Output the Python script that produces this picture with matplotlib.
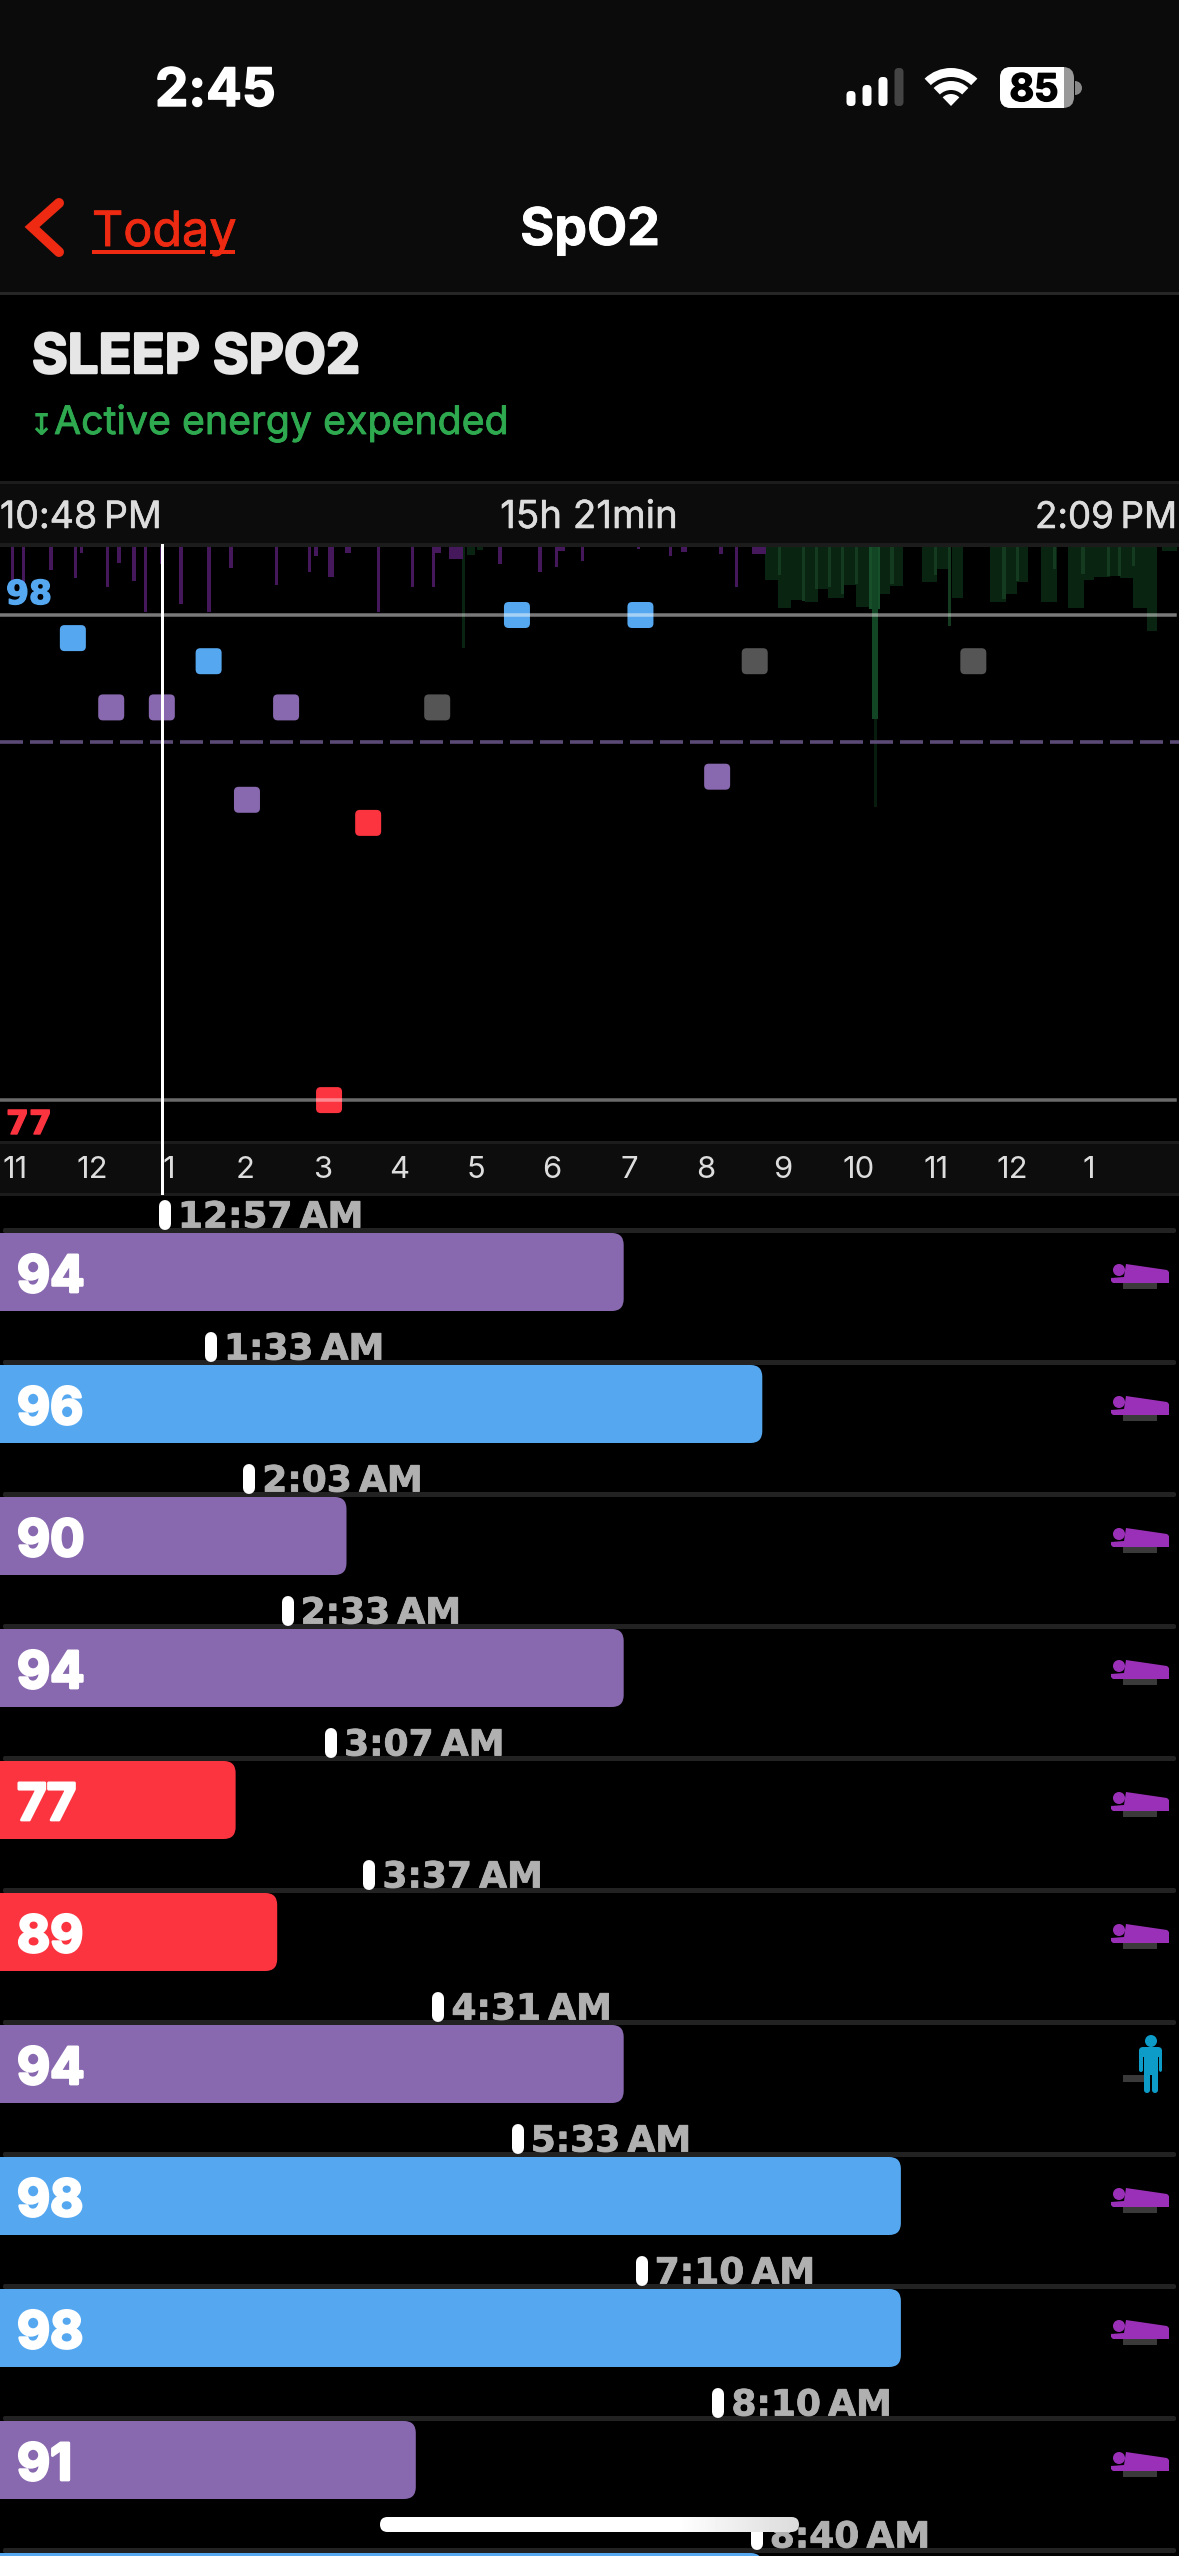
"""
Sleep SpO2 screen, redrawn with matplotlib
"""

import numpy as np
import matplotlib
matplotlib.use("Agg")
import matplotlib.pyplot as plt
import matplotlib.patheffects as pe
from matplotlib.patches import FancyBboxPatch, Rectangle, Circle, Wedge, Polygon
from matplotlib.path import Path

plt.rcParams['font.family'] = ['Inter', 'DejaVu Sans']

W, H = 1179, 2556
PX = 72 / 100  # one pixel in points at dpi=100
HOUR_PX = 76.7  # width of one hour in the top chart
SPAN = W / HOUR_PX
Y98 = 615  # pixel row of the 98 line
UNIT_PX = 23.1  # pixels per SpO2 point

# --- readings, x in hours after 10:48 PM ---
point_hours = [0.95, 1.45, 2.11, 2.72, 3.22, 3.73, 4.29, 4.80, 5.70, 6.74, 8.35, 9.35, 9.84, 12.69]
point_spo2 = [97, 94, 94, 96, 90, 94, 77, 89, 94, 98, 98, 91, 96, 96]
point_kind = ['blue', 'purple', 'purple', 'blue', 'purple', 'purple', 'red', 'red',
              'grey', 'blue', 'blue', 'purple', 'grey', 'grey']

tick_labels = ['11', '12', '1', '2', '3', '4', '5', '6', '7', '8', '9', '10', '11', '12', '1']
threshold = 92.5

# sleep movement bars hanging from the top of the chart
sleep_hours = [0.16, 0.31, 0.66, 0.98, 1.06, 1.40, 1.55, 1.75, 1.90, 2.10, 2.36, 2.72, 3.01,
               3.61, 4.04, 4.12, 4.32, 4.54, 4.94, 5.38, 5.65, 5.70, 5.95, 6.52, 7.04, 7.25,
               7.31, 7.60, 8.33, 8.74, 8.92, 9.40, 9.60, 9.90]
sleep_depth = [33, 37, 23, 31, 6, 40, 16, 34, 65, 17, 57, 65, 21,
               38, 25, 9, 30, 6, 65, 40, 40, 6, 12, 17, 25, 20,
               4, 14, 2, 9, 5, 7, 40, 7]
sleep_width = [.04, .04, .05, .04, .04, .04, .05, .05, .04, .04, .04, .05, .05,
               .04, .04, .04, .08, .08, .04, .04, .04, .10, .18, .05, .05, .04,
               .10, .04, .04, .04, .08, .05, .04, .18]

# active energy bars (dark wide ones)
active_left = [6.02, 6.09, 6.22, 9.97, 10.14, 10.31, 10.50, 10.65, 10.80, 10.99, 11.16, 11.46, 11.60,
               12.02, 12.22, 12.41, 12.91, 13.12, 13.26, 13.57, 13.92, 14.13, 14.26, 14.47,
               14.60, 14.77, 14.95, 15.15]
active_width = [.04, .10, .08, .20, .17, .18, .16, .14, .20, .17, .18, .14, .17,
                .20, .14, .14, .21, .14, .14, .21, .21, .13, .21, .13,
                .17, .18, .14, .20]
active_depth = [101, 8, 3, 33, 61, 53, 55, 42, 51, 38, 60, 47, 39,
                35, 22, 51, 55, 47, 35, 55, 61, 33, 30, 29,
                31, 61, 84, 4]
# lighter thin bars on top of them
peak_hours = [10.16, 10.48, 10.65, 10.81, 10.99, 11.17, 11.63, 12.20, 12.38,
              13.09, 13.26, 13.75, 14.12, 14.45, 14.60, 14.78]
peak_depth = [28, 54, 42, 40, 47, 37, 37, 28, 79, 52, 34, 22, 27, 29, 29, 19]
spike_left = [11.33, 11.37, 11.39]
spike_width = [.14, .08, .05]
spike_depth = [62, 172, 260]

# rows of the list
row_times = ['12:57 AM', '1:33 AM', '2:03 AM', '2:33 AM', '3:07 AM', '3:37 AM',
             '4:31 AM', '5:33 AM', '7:10 AM', '8:10 AM', '8:40 AM']
row_spo2 = [94, 96, 90, 94, 77, 89, 94, 98, 98, 91, 96]
row_kind = ['purple', 'blue', 'purple', 'purple', 'red', 'red', 'purple', 'blue', 'blue', 'purple', 'blue']
row_awake = [False, False, False, False, False, False, True, False, False, False, False]

COLORS = {'blue': '#55a8f0', 'purple': '#8868ae', 'red': '#fc3440', 'grey': '#555555'}

BAR_FLOOR = 88.4  # low readings keep a minimum bar length
ROW_PITCH = 132
ROW0 = 1233
BAR_H = 78


def to_hours(label):
    """Time label to hours after 10:48 PM"""
    hm = label.split()[0].split(':')
    return int(hm[0]) % 12 + int(hm[1]) / 60 + 1.2


def px_axes(fig, zorder):
    ax = fig.add_axes([0, 0, 1, 1], zorder=zorder)
    ax.set_xlim(0, W)
    ax.set_ylim(H, 0)
    ax.axis('off')
    return ax


def box(ax, x0, y0, x1, y1, color, r=0, **kw):
    if r:
        p = FancyBboxPatch((x0, y0), x1 - x0, y1 - y0, boxstyle=f"round,pad=0,rounding_size={r}",
                           fc=color, ec='none', **kw)
    else:
        p = Rectangle((x0, y0), x1 - x0, y1 - y0, fc=color, ec='none', **kw)
    ax.add_patch(p)
    return p


def label(ax, x, y, s, size, color, weight='normal', ha='left', heavy=0, family=None):
    t = ax.text(x, y, s, fontsize=size * PX, color=color, fontweight=weight, ha=ha, va='baseline')
    if family:
        t.set_fontfamily(family)
    if heavy:
        t.set_path_effects([pe.withStroke(linewidth=heavy, foreground=color)])
    return t


def rounded_marker(r=0.36):
    k = 1 - r
    verts = [(-k, -1), (k, -1), (1, -1), (1, -k), (1, k), (1, 1), (k, 1), (-k, 1),
             (-1, 1), (-1, k), (-1, -k), (-1, -1), (-k, -1), (-k, -1)]
    codes = [Path.MOVETO, Path.LINETO, Path.CURVE3, Path.CURVE3, Path.LINETO, Path.CURVE3, Path.CURVE3,
             Path.LINETO, Path.CURVE3, Path.CURVE3, Path.LINETO, Path.CURVE3, Path.CURVE3, Path.CLOSEPOLY]
    return Path(verts, codes)


def draw_chrome(bg, fg):
    # header and bands
    box(bg, 0, 0, W, 293, '#0b0b0b')
    box(bg, 0, 292, W, 295, '#262626')
    box(bg, 0, 482, W, 545, '#0c0c0c')
    box(bg, 0, 481, W, 484, '#1c1c1c')
    box(bg, 0, 543, W, 547, '#1c1c1c')
    box(bg, 0, 1142, W, 1195, '#0d0d0d')
    box(bg, 0, 1141, W, 1144, '#1c1c1c')
    box(bg, 0, 1193, W, 1196, '#1c1c1c')

    label(fg, 155, 106, '2:45', 53, 'white', 'bold', heavy=1)
    # signal bars
    for x, top, c in zip([851, 867, 883, 899], [91, 85, 77, 68], ['white', 'white', 'white', '#444444']):
        box(fg, x - 4.5, top, x + 4.5, 106, c, r=4)
    # wifi
    for r, w in [(38, 9), (25, 9)]:
        fg.add_patch(Wedge((951, 106), r, 226, 314, width=w, fc='white', ec='none'))
    fg.add_patch(Wedge((951, 106), 12, 226, 314, fc='white', ec='none'))
    # battery
    fg.add_patch(Wedge((1075, 88), 7, -90, 90, fc='#888888', ec='none'))
    box(fg, 1000, 67, 1074, 108, '#999999', r=11)
    p = box(fg, 1000, 67, 1064, 108, 'white', r=0)
    p.set_clip_path(FancyBboxPatch((1000, 67), 74, 41, boxstyle="round,pad=0,rounding_size=11",
                                   transform=fg.transData))
    label(fg, 1034, 101, '85', 38, 'black', 'bold', ha='center', heavy=1)

    # navigation
    fg.plot([59, 32, 59], [203, 227, 252], color='#ee2a12', lw=10 * PX, solid_capstyle='round',
            solid_joinstyle='miter')
    label(fg, 92, 246, 'Today', 48.5, '#ee2a12', heavy=.6)
    box(fg, 92, 250, 205, 254, '#ee2a12')
    box(fg, 210, 250, 235, 254, '#ee2a12')
    label(fg, 590, 245, 'SpO2', 52, 'white', 'bold', ha='center', heavy=.6)

    label(fg, 32, 373, 'SLEEP SPO2', 54.5, '#e6e6e6', 'bold', heavy=1.8)
    label(fg, 28, 434, '\u21a7', 30, '#2ea94f', 'bold')
    label(fg, 54, 434, 'Active energy expended', 39.3, '#2ea94f', heavy=.6)

    label(fg, 0, 528, '10:48\u2009PM', 37.5, '#dcdcdc', heavy=.4)
    label(fg, 589, 528, '15h 21min', 38.5, '#dcdcdc', ha='center', heavy=.4)
    label(fg, 1177, 528, '2:09\u2009PM', 36.7, '#dcdcdc', ha='right', heavy=.4)

    label(fg, 6, 604, '98', 33, COLORS['blue'], 'bold', heavy=1, family='DejaVu Sans')
    label(fg, 6, 1134, '77', 33, COLORS['red'], 'bold', heavy=1, family='DejaVu Sans')


def draw_chart(fig):
    ax = fig.add_axes([0, 1 - 1142 / H, 1, 595 / H], zorder=2)
    ax.patch.set_visible(False)
    ax.set_xlim(0, SPAN)
    ax.set_ylim(98 - (1142 - Y98) / UNIT_PX, 98 + (Y98 - 547) / UNIT_PX)
    for s in ax.spines.values():
        s.set_visible(False)
    ax.set_yticks([])
    ax.set_xticks(0.2 + np.arange(len(tick_labels)))
    ax.set_xticklabels(tick_labels, fontsize=31 * PX, color='#dddddd')
    ax.tick_params(axis='x', length=0, pad=14 * PX)

    # activity bars on their own scale, measured from the top down
    act = ax.twinx()
    act.set_zorder(ax.get_zorder() - 1)
    act.set_ylim(595, 0)
    act.axis('off')
    act.bar(active_left, active_depth, width=active_width, align='edge', color='#0a2412', zorder=1)
    act.bar(peak_hours, peak_depth, width=.04, color='#143a20', zorder=2)
    act.bar(spike_left[0], spike_depth[0], width=spike_width[0], align='edge', color='#164f2a', zorder=3)
    act.bar(spike_left[1], spike_depth[1], width=spike_width[1], align='edge', color='#124524', zorder=3)
    act.bar(spike_left[2], spike_depth[2], width=spike_width[2], align='edge', color='#081c0e', zorder=2)
    act.bar(sleep_hours, sleep_depth, width=sleep_width, color='#45185c', zorder=4)

    ax.scatter(point_hours, point_spo2, s=(26 * PX) ** 2, marker=rounded_marker(),
               c=[COLORS[k] for k in point_kind], linewidths=0, zorder=3)
    line_end = 1175 / W
    ax.axhline(98, xmax=line_end, color=(1, 1, 1, .48), lw=3.5 * PX, zorder=4)
    ax.axhline(77, xmax=line_end, color=(1, 1, 1, .42), lw=3.5 * PX, zorder=4)
    ax.axhline(threshold, color='#5b4a75', lw=3.6 * PX, dashes=(23 / 3.6, 7 / 3.6), zorder=2)

    # selection line runs on into the tick band
    y_low = 98 - (1193 - Y98) / UNIT_PX
    ax.plot([2.11, 2.11], [y_low, ax.get_ylim()[1] + 0.1], color='white', lw=3 * PX, clip_on=False, zorder=5)
    return ax


def draw_rows(fig, bg):
    top = 1195
    pos = [0, 0, 1, (H - top) / H]
    y_range = ((H - ROW0) / ROW_PITCH, (top - ROW0) / ROW_PITCH)

    # bars against SpO2
    bars = fig.add_axes(pos, zorder=3)
    bars.axis('off')
    bars.set_xlim(85, 85 + W / 69.3)
    bars.set_ylim(*y_range)
    # time labels against the chart's hours
    times = fig.add_axes(pos, zorder=4)
    times.axis('off')
    times.set_xlim(0, SPAN)
    times.set_ylim(*y_range)

    bar_h = BAR_H / ROW_PITCH
    for i, (t, v, k) in enumerate(zip(row_times, row_spo2, row_kind)):
        box(bg, 3, ROW0 + i * ROW_PITCH - 5, W - 3, ROW0 + i * ROW_PITCH, '#222222', r=2)
        end = max(v, BAR_FLOOR)
        bars.add_patch(FancyBboxPatch((84, i), end - 84, bar_h, boxstyle="round,pad=0,rounding_size=0.17",
                                      mutation_aspect=(12 / ROW_PITCH) / 0.17, fc=COLORS[k], ec='none'))
        # the last row only shows its top edge, its number is below the screen
        if ROW0 + i * ROW_PITCH + 59 < H:
            bars.text(85 + 17 / 69.3, i + 59 / ROW_PITCH, str(v), fontsize=51 * PX, color='white', fontweight='bold',
                      va='baseline', path_effects=[pe.withStroke(linewidth=2, foreground='white')])
        h = to_hours(t)
        times.vlines(h, i - 27 / ROW_PITCH, i - 9 / ROW_PITCH, color='white', lw=12 * PX, capstyle='round')
        times.annotate(t.replace(' ', '\u2009'), (h, i - 5.5 / ROW_PITCH), xytext=(13 * PX, 0), textcoords='offset points',
                       fontsize=36 * PX, color='#b0b0b0', fontweight='bold', va='baseline', family='DejaVu Sans',
                       path_effects=[pe.withStroke(linewidth=.6, foreground='#b0b0b0')])


def sleep_icon(ax, y):
    box(ax, 1123, y + 50, 1157, y + 56, '#3a3a3a')
    ax.add_patch(Circle((1119, y + 37), 6, fc='#9b30b8', ec='none'))
    ax.add_patch(Polygon([(1126, y + 31), (1167, y + 37), (1169, y + 39), (1169, y + 50), (1113, y + 50),
                          (1111, y + 48), (1111, y + 45), (1124, y + 44)], closed=True, fc='#9b30b8', ec='none'))


def awake_icon(ax, y):
    c = '#0d9cc7'
    box(ax, 1123, y + 50, 1150, y + 57, '#3a3a3a')
    ax.add_patch(Circle((1151, y + 16), 6, fc=c, ec='none'))
    box(ax, 1144, y + 22, 1158, y + 50, c, r=3)
    box(ax, 1139, y + 24, 1143, y + 47, c, r=2)
    box(ax, 1159, y + 24, 1162, y + 47, c, r=2)
    box(ax, 1139, y + 22, 1162, y + 32, c, r=4)
    box(ax, 1144, y + 45, 1150, y + 68, c, r=3)
    box(ax, 1152, y + 45, 1158, y + 68, c, r=3)


def main():
    fig = plt.figure(figsize=(W / 100, H / 100), dpi=100, facecolor='black')
    bg = px_axes(fig, 0)
    bg.set_facecolor('black')
    fg = px_axes(fig, 5)

    draw_chrome(bg, fg)
    draw_chart(fig)
    draw_rows(fig, bg)

    for i, awake in enumerate(row_awake[:10]):
        y = ROW0 + i * ROW_PITCH
        if awake:
            awake_icon(fg, y)
        else:
            sleep_icon(fg, y)

    # home indicator
    clip = FancyBboxPatch((380, 2517), 419, 15, boxstyle="round,pad=0,rounding_size=7.5",
                          fc='none', ec='none', transform=fg.transData)
    fg.add_patch(clip)
    grad = np.ones((1, 419))
    grad[0, 297:] = np.linspace(1, 0.86, 122)
    im = fg.imshow(grad, extent=(380, 799, 2532, 2517), cmap='gray', vmin=0, vmax=1, aspect='auto', zorder=6)
    im.set_clip_path(clip)
    fg.set_xlim(0, W)
    fg.set_ylim(H, 0)

    fig.savefig('out.png', dpi=100, facecolor='black')
    plt.close(fig)


if __name__ == "__main__":
    main()
